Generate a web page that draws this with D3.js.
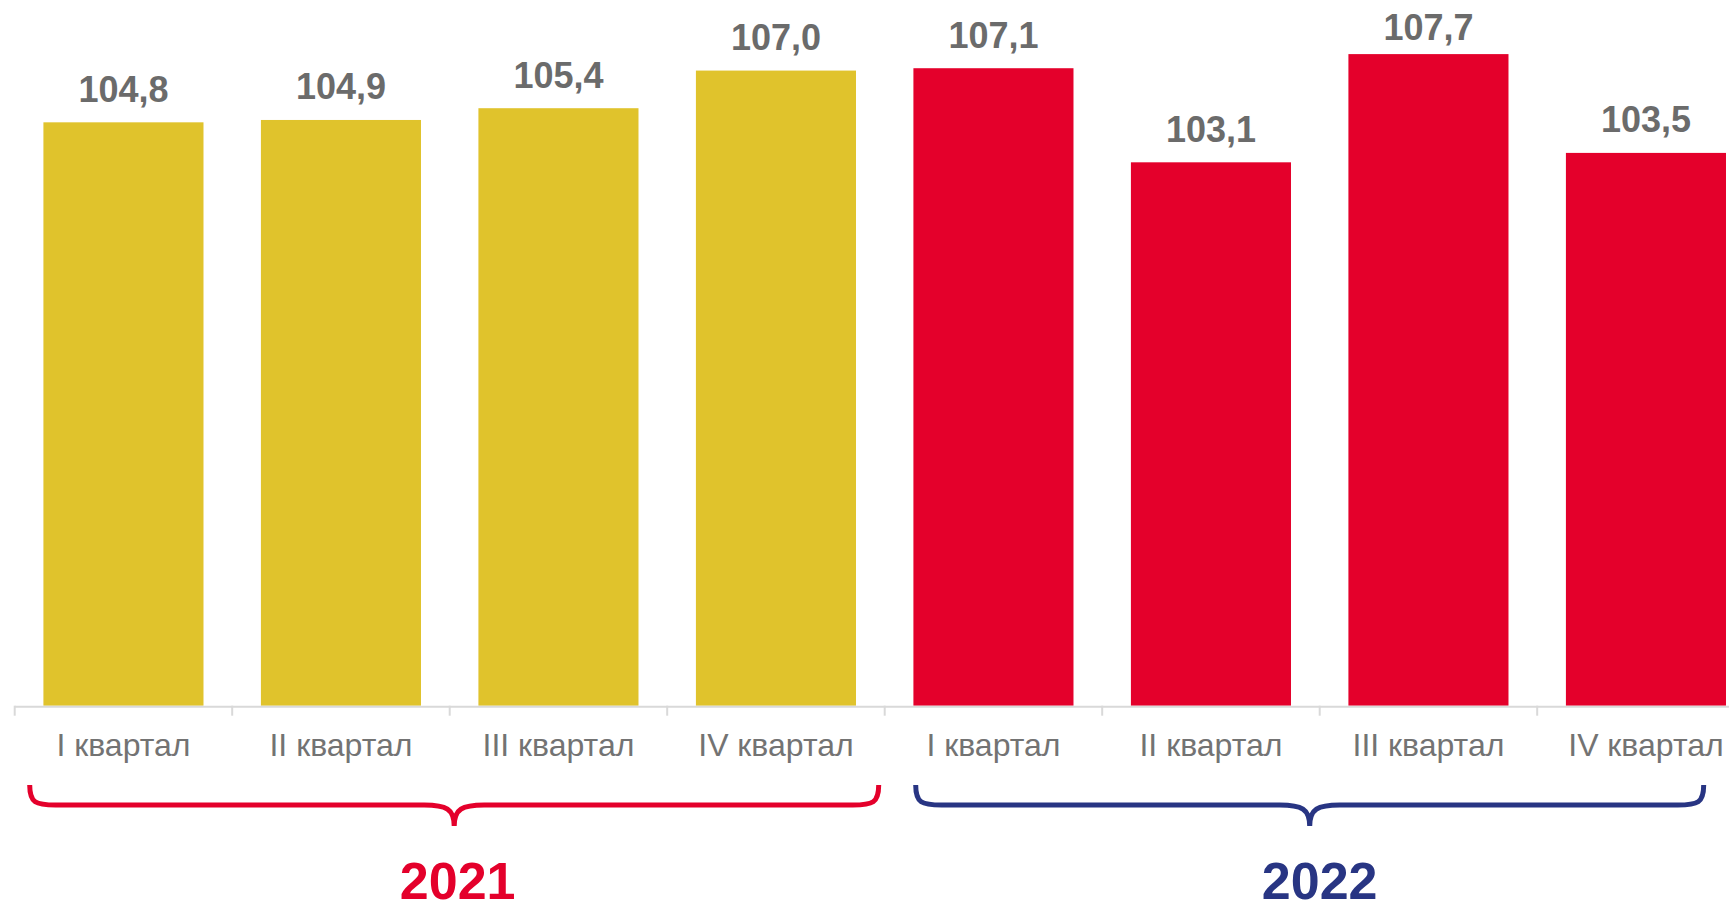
<!DOCTYPE html>
<html>
<head>
<meta charset="utf-8">
<script src="https://cdn.jsdelivr.net/npm/d3@7"></script>
<style>
  html, body { margin: 0; padding: 0; background: #fff; overflow: hidden; }
  svg { display: block; font-family: "Liberation Sans", Arial, sans-serif; }
</style>
</head>
<body>
<div class="chart"></div>
<script>
// data
var quarters = ["I квартал", "II квартал", "III квартал", "IV квартал",
                "I квартал", "II квартал", "III квартал", "IV квартал"];
var years = ["2021", "2021", "2021", "2021", "2022", "2022", "2022", "2022"];
var values = [104.8, 104.9, 105.4, 107.0, 107.1, 103.1, 107.7, 103.5];
var yearLabels = ["2021", "2022"];

var svgWidth = 1729;
var svgHeight = 910;

var barColor = {"2021": "#e0c32c", "2022": "#e4002b"};
var yearColor = {"2021": "#e4002b", "2022": "#283583"};

var data = values.map(function(v, i) {
  return {key: i, quarter: quarters[i], year: years[i], value: v};
});

var svg = d3.select(".chart")
  .append("svg")
  .attr("width", svgWidth)
  .attr("height", svgHeight);

// band scale runs past the right edge, like the original
var xScale = d3.scaleBand()
  .domain(data.map(d => d.key))
  .range([14.7, 14.7 + 217.5 * data.length])
  .paddingInner(0.264)
  .paddingOuter(0.132);

var baseY = 705.7;
var yScale = d3.scaleLinear()
  .domain([80, 110])
  .range([baseY, 0]);

// bars
svg.selectAll("rect.bar")
  .data(data)
  .enter()
  .append("rect")
  .attr("class", "bar")
  .attr("x", d => xScale(d.key))
  .attr("y", d => yScale(d.value))
  .attr("width", xScale.bandwidth())
  .attr("height", d => baseY - yScale(d.value))
  .attr("fill", d => barColor[d.year]);

// value labels (kept inside the top of the plot, like the original)
svg.selectAll("text.val")
  .data(data)
  .enter()
  .append("text")
  .attr("class", "val")
  .attr("x", d => xScale(d.key) + xScale.bandwidth() / 2)
  .attr("y", d => Math.max(yScale(d.value) - 20.5, 39.5))
  .attr("text-anchor", "middle")
  .attr("font-size", 36)
  .attr("font-weight", "bold")
  .attr("fill", "#6b6b6b")
  .text(d => d3.format(".1f")(d.value).replace(".", ","));

// x axis: line, ticks at band edges
var step = xScale.step();
var bandStart = d => xScale(d) - step * xScale.paddingInner() / 2;
var axis = svg.append("g").attr("class", "x-axis");
axis.append("line")
  .attr("x1", bandStart(0))
  .attr("x2", svgWidth)
  .attr("y1", baseY + 1)
  .attr("y2", baseY + 1)
  .attr("stroke", "#d9d9d9")
  .attr("stroke-width", 2);
axis.selectAll("line.tick")
  .data(data)
  .enter()
  .append("line")
  .attr("class", "tick")
  .attr("x1", d => bandStart(d.key))
  .attr("x2", d => bandStart(d.key))
  .attr("y1", baseY)
  .attr("y2", baseY + 10)
  .attr("stroke", "#d9d9d9")
  .attr("stroke-width", 2);

axis.selectAll("text")
  .data(data)
  .enter()
  .append("text")
  .attr("x", d => xScale(d.key) + xScale.bandwidth() / 2)
  .attr("y", 756)
  .attr("text-anchor", "middle")
  .attr("font-size", 32)
  .attr("fill", "#737373")
  .text(d => d.quarter);

// year braces
var braceInset = {"2021": [15, 6], "2022": [31, 51]};
var labelShift = {"2021": 8, "2022": 0};
var braceTop = 785, braceLine = 805, braceTip = 826;

function bracePath(x1, x2) {
  var mid = (x1 + x2) / 2;
  return "M" + x1 + "," + braceTop +
    " C" + x1 + "," + (braceLine - 2) + " " + (x1 + 6) + "," + braceLine + " " + (x1 + 26) + "," + braceLine +
    " L" + (mid - 30) + "," + braceLine +
    " C" + (mid - 8) + "," + braceLine + " " + mid + "," + (braceLine + 4) + " " + mid + "," + braceTip +
    " C" + mid + "," + (braceLine + 4) + " " + (mid + 8) + "," + braceLine + " " + (mid + 30) + "," + braceLine +
    " L" + (x2 - 26) + "," + braceLine +
    " C" + (x2 - 6) + "," + braceLine + " " + x2 + "," + (braceLine - 2) + " " + x2 + "," + braceTop;
}

yearLabels.forEach(function(yr) {
  var keys = data.filter(d => d.year === yr).map(d => d.key);
  var g0 = bandStart(keys[0]);
  var g1 = bandStart(keys[keys.length - 1]) + step;

  svg.append("path")
    .attr("d", bracePath(g0 + braceInset[yr][0], g1 - braceInset[yr][1]))
    .attr("fill", "none")
    .attr("stroke", yearColor[yr])
    .attr("stroke-width", 5);

  svg.append("text")
    .attr("x", (g0 + g1) / 2 + labelShift[yr])
    .attr("y", 899)
    .attr("text-anchor", "middle")
    .attr("font-size", 52)
    .attr("font-weight", "bold")
    .attr("fill", yearColor[yr])
    .text(yr);
});
</script>
</body>
</html>
